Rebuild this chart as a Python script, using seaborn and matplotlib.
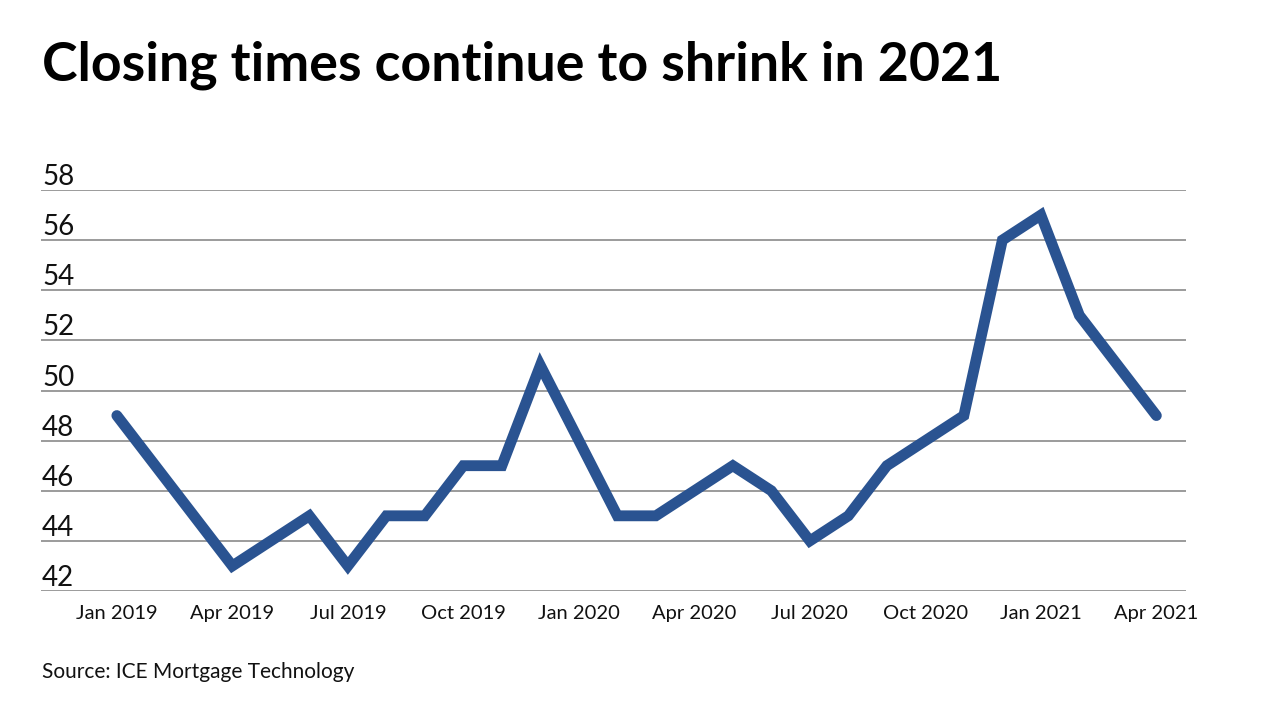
import matplotlib
matplotlib.use("Agg")
import matplotlib.pyplot as plt
import matplotlib.transforms as mtransforms
import seaborn as sns
import pandas as pd

months = ["Jan 2019", "Feb 2019", "Mar 2019", "Apr 2019", "May 2019", "Jun 2019",
          "Jul 2019", "Aug 2019", "Sep 2019", "Oct 2019", "Nov 2019", "Dec 2019",
          "Jan 2020", "Feb 2020", "Mar 2020", "Apr 2020", "May 2020", "Jun 2020",
          "Jul 2020", "Aug 2020", "Sep 2020", "Oct 2020", "Nov 2020", "Dec 2020",
          "Jan 2021", "Feb 2021", "Mar 2021", "Apr 2021"]
days = [49, 47, 45, 43, 44, 45, 43, 45, 45, 47, 47, 51,
        48, 45, 45, 46, 47, 46, 44, 45, 47, 48, 49, 56,
        57, 53, 51, 49]
xtick_labels = ["Jan 2019", "Apr 2019", "Jul 2019", "Oct 2019", "Jan 2020",
                "Apr 2020", "Jul 2020", "Oct 2020", "Jan 2021", "Apr 2021"]
yticks = [42, 44, 46, 48, 50, 52, 54, 56, 58]

sns.set_theme(style="white")
plt.rcParams['font.family'] = ['Lato', 'DejaVu Sans']

df = pd.DataFrame({"idx": range(len(months)), "month": months, "days": days})

fig = plt.figure(figsize=(12.8, 7.2), dpi=100)
ax = fig.add_axes([41/1280, 1 - 591/720, (1186 - 41)/1280, (591 - 190)/720])

for y in yticks:
    ax.axhline(y, color="#8a8a8a", linewidth=1.2, zorder=1)

sns.lineplot(data=df, x="idx", y="days", ax=ax, color="#2a5391", linewidth=7.8,
             solid_capstyle="round", solid_joinstyle="miter", zorder=3)

ax.set_ylim(42, 58)
ax.set_xlim(-1.97, 27.77)
for s in ax.spines.values():
    s.set_visible(False)
ax.set_xlabel("")
ax.set_ylabel("")
ax.set_yticks([])
tick_pos = [months.index(m) for m in xtick_labels]
ax.set_xticks(tick_pos)
ax.set_xticklabels(xtick_labels, fontsize=14.5, color="#111111")
ax.tick_params(axis="x", length=0, pad=10)

trans = mtransforms.blended_transform_factory(ax.transAxes, ax.transData)
offset = mtransforms.offset_copy(trans, fig=fig, x=0, y=0, units="points")
for y in yticks:
    ax.text(0.001, y, str(y), transform=offset, ha="left", va="bottom",
            fontsize=20, color="#111111")

fig.text(42/1280, 1 - 65/720, "Closing times continue to shrink in 2021",
         fontsize=38.6, fontweight="bold", color="#000000", ha="left", va="center")
fig.text(42/1280, 1 - 672/720, "Source: ICE Mortgage Technology",
         fontsize=15, color="#111111", ha="left", va="center")

fig.savefig("out.png", dpi=100)
